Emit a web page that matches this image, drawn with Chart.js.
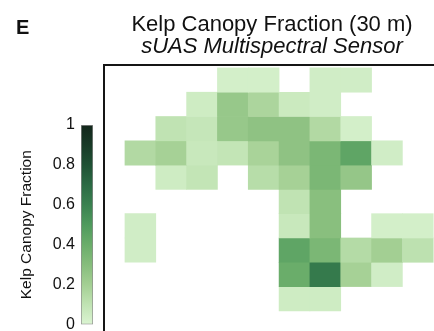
<!DOCTYPE html>
<html lang="en">

<head>
    <meta charset="UTF-8">
    <title>Kelp Canopy Fraction (30 m)</title>
    <script src="https://cdn.jsdelivr.net/npm/chart.js"></script>
    <style>
        html, body {
            margin: 0;
            padding: 0;
            background: #fff;
            overflow: hidden;
            width: 434px;
            height: 331px;
        }

        .painel {
            position: absolute;
            left: 16px;
            top: 16px;
            font: bold 20px "Liberation Sans", Arial, sans-serif;
            color: #111;
        }

        #mapaBox {
            position: absolute;
            left: 0;
            top: 0;
            width: 450px;
            height: 340px;
        }

        /* label overhang eats ~16px at the bottom, so the box runs past the window */
        #barraBox {
            position: absolute;
            left: 0;
            top: 0;
            width: 100px;
            height: 340px;
        }
    </style>
</head>

<body>
    <div id="mapaBox"><canvas id="mapa"></canvas></div>
    <div id="barraBox"><canvas id="barra"></canvas></div>
    <div class="painel">E</div>
</body>

</html>
<script>
    // grid columns (west -> east) and rows (north -> south)
    var colunas = [0, 1, 2, 3, 4, 5, 6, 7, 8, 9];
    var linhas = [0, 1, 2, 3, 4, 5, 6, 7, 8, 9];

    // kelp canopy fraction per 30 m cell, one array per row (0 = no data)
    var linha0 = [0, 0, 0, 0.03, 0.03, 0, 0.04, 0.04, 0, 0];
    var linha1 = [0, 0, 0.05, 0.24, 0.17, 0.06, 0.04, 0, 0, 0];
    var linha2 = [0, 0.10, 0.08, 0.24, 0.27, 0.27, 0.15, 0.03, 0, 0];
    var linha3 = [0.15, 0.19, 0.07, 0.09, 0.18, 0.27, 0.34, 0.44, 0.04, 0];
    var linha4 = [0, 0.05, 0.09, 0, 0.13, 0.19, 0.34, 0.25, 0, 0];
    var linha5 = [0, 0, 0, 0, 0, 0.10, 0.29, 0, 0, 0];
    var linha6 = [0.04, 0, 0, 0, 0, 0.07, 0.29, 0, 0.03, 0.03];
    var linha7 = [0.04, 0, 0, 0, 0, 0.44, 0.34, 0.14, 0.20, 0.11];
    var linha8 = [0, 0, 0, 0, 0, 0.40, 0.63, 0.19, 0.04, 0];
    var linha9 = [0, 0, 0, 0, 0, 0.05, 0.05, 0, 0, 0];
    var grade = [linha0, linha1, linha2, linha3, linha4, linha5, linha6, linha7, linha8, linha9];

    // colorbar ticks
    var ticksBarra = [0, 0.2, 0.4, 0.6, 0.8, 1];

    // colormap (light green -> very dark green)
    var cmapPos = [0, 0.1, 0.2, 0.3, 0.4, 0.5, 0.6, 0.7, 0.8, 0.9, 1];
    var cmapCor = ['#dbf4d2', '#c0e3b3', '#a3cf93', '#86bd7c', '#6aad6a', '#4f9a5d',
        '#3a8150', '#2b6a44', '#1f5134', '#183a27', '#13261b'];

    var fonte = '"Liberation Sans", Arial, sans-serif';

    function hexParaRgb(h) {
        return [parseInt(h.substr(1, 2), 16), parseInt(h.substr(3, 2), 16), parseInt(h.substr(5, 2), 16)];
    }

    function corDoValor(v) {
        v = Math.max(0, Math.min(1, v));
        for (var i = 1; i < cmapPos.length; i++) {
            if (v <= cmapPos[i]) {
                var t = (v - cmapPos[i - 1]) / (cmapPos[i] - cmapPos[i - 1]);
                var a = hexParaRgb(cmapCor[i - 1]);
                var b = hexParaRgb(cmapCor[i]);
                var c = a.map(function(x, k) { return Math.round(x + (b[k] - x) * t); });
                return 'rgb(' + c.join(',') + ')';
            }
        }
        return cmapCor[cmapCor.length - 1];
    }

    // one floating-bar dataset per row, each cell spans [row, row + 1]
    var conjuntos = grade.map(function(linha, r) {
        var pontos = [];
        linha.forEach(function(v, c) {
            if (v > 0) {
                pontos.push({ x: colunas[c] + 0.5, y: [linhas[r], linhas[r] + 1], v: v });
            }
        });
        return {
            data: pontos,
            backgroundColor: function(ctx) { return ctx.raw ? corDoValor(ctx.raw.v) : 'transparent'; },
            borderWidth: 0,
            grouped: false,
            categoryPercentage: 1,
            barPercentage: 1
        };
    });

    // black frame round the map
    var moldura = {
        id: 'moldura',
        afterDatasetsDraw: function(chart) {
            var a = chart.chartArea;
            var ctx = chart.ctx;
            ctx.save();
            ctx.strokeStyle = '#151515';
            ctx.lineWidth = 2;
            ctx.strokeRect(a.left, a.top, a.right - a.left, a.bottom - a.top);
            ctx.restore();
        }
    };

    new Chart(document.getElementById('mapa'), {
        type: 'bar',
        data: { datasets: conjuntos },
        options: {
            responsive: true,
            maintainAspectRatio: false,
            animation: false,
            layout: { padding: { left: 104, right: 10, top: 0, bottom: 8 } },
            plugins: {
                legend: { display: false },
                tooltip: { enabled: false },
                title: {
                    display: true,
                    text: 'Kelp Canopy Fraction (30 m)',
                    color: '#111',
                    font: { family: fonte, size: 22, weight: 'normal', lineHeight: 1 },
                    padding: { top: 14, bottom: 0 }
                },
                subtitle: {
                    display: true,
                    text: 'sUAS Multispectral Sensor',
                    color: '#111',
                    font: { family: fonte, size: 22, style: 'italic', lineHeight: 1 },
                    padding: { top: 0, bottom: 7 }
                }
            },
            scales: {
                x: {
                    type: 'linear',
                    display: false,
                    offset: false,
                    min: -0.68,
                    max: 10.22,
                    ticks: { stepSize: 1, includeBounds: false }
                },
                y: {
                    type: 'linear',
                    display: false,
                    reverse: true,
                    min: -0.12,
                    max: 10.87,
                    ticks: { stepSize: 1, includeBounds: false }
                }
            }
        },
        plugins: [moldura]
    });

    // colorbar: one floating bar from 0 to 1 with the colormap as gradient
    new Chart(document.getElementById('barra'), {
        type: 'bar',
        data: {
            labels: ['cb'],
            datasets: [{
                data: [[ticksBarra[0], ticksBarra[ticksBarra.length - 1]]],
                backgroundColor: function(ctx) {
                    var area = ctx.chart.chartArea;
                    if (!area) return null;
                    var g = ctx.chart.ctx.createLinearGradient(0, area.bottom, 0, area.top);
                    cmapPos.forEach(function(p, i) { g.addColorStop(p, cmapCor[i]); });
                    return g;
                },
                borderColor: '#8c8c8c',
                borderWidth: 1,
                borderSkipped: false,
                categoryPercentage: 1,
                barPercentage: 1
            }]
        },
        options: {
            responsive: true,
            maintainAspectRatio: false,
            animation: false,
            layout: { padding: { left: 0, right: 7, top: 125, bottom: 0 } },
            plugins: {
                legend: { display: false },
                tooltip: { enabled: false }
            },
            scales: {
                x: { display: false },
                y: {
                    min: 0,
                    max: 1,
                    afterFit: function(s) { s.width = 81; },
                    grid: { display: false, drawTicks: false },
                    border: { display: false },
                    afterBuildTicks: function(s) {
                        s.ticks = ticksBarra.map(function(v) { return { value: v }; });
                    },
                    ticks: {
                        color: '#111',
                        padding: 6,
                        font: { family: fonte, size: 16 },
                        callback: function(v) { return v; }
                    },
                    title: {
                        display: true,
                        text: 'Kelp Canopy Fraction',
                        color: '#111',
                        font: { family: fonte, size: 15.5 },
                        padding: { top: 17, bottom: 0 }
                    }
                }
            }
        }
    });
</script>
